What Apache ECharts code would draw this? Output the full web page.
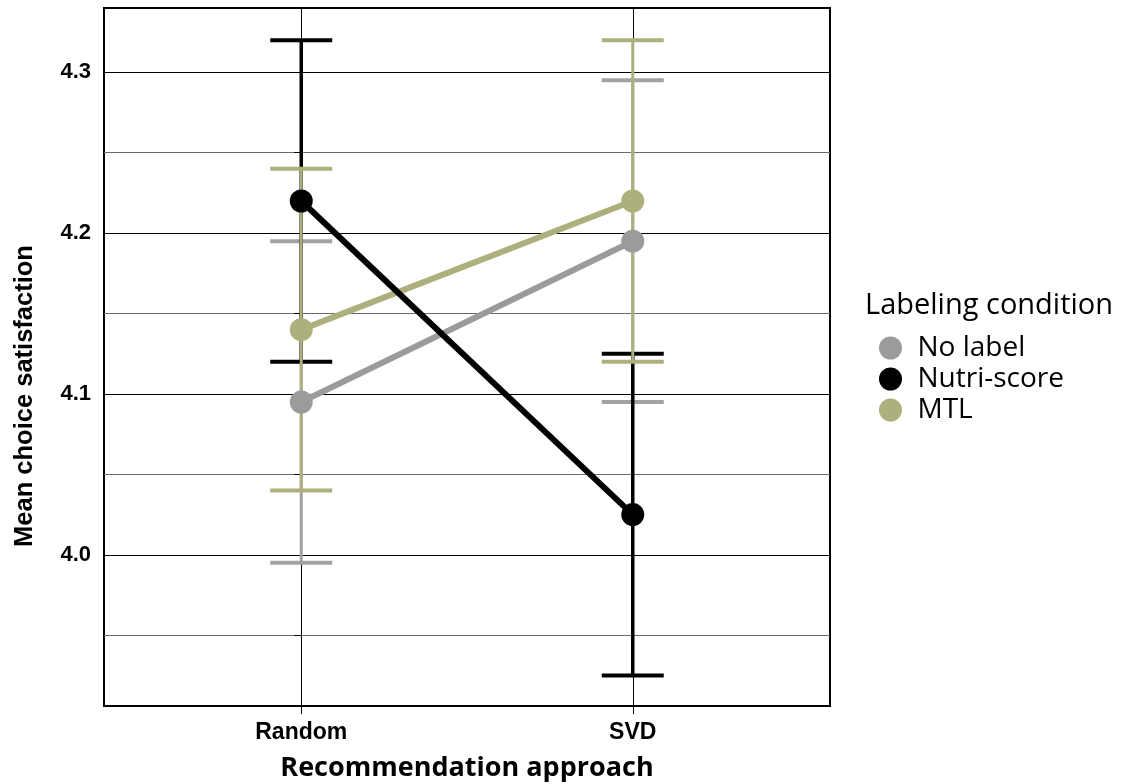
<!DOCTYPE html>
<html>
<head>
<meta charset="utf-8">
<script src="https://cdn.jsdelivr.net/npm/echarts@6/dist/echarts.min.js"></script>
<style>
html,body{margin:0;padding:0;background:#fff;}
#chart{width:1122px;height:784px;}
</style>
</head>
<body>
<div id="chart"></div>
<script>
// ---- data ----
const categories = ['Random', 'SVD'];
const seriesNames = ['No label', 'Nutri-score', 'MTL'];
const noLabelMean = [4.095, 4.195];
const noLabelLow  = [3.995, 4.095];
const noLabelHigh = [4.195, 4.295];
const nutriMean = [4.22, 4.025];
const nutriLow  = [4.12, 3.925];
const nutriHigh = [4.32, 4.125];
const mtlMean = [4.14, 4.22];
const mtlLow  = [4.04, 4.12];
const mtlHigh = [4.24, 4.32];
const yLabelTicks = [4.0, 4.1, 4.2, 4.3];
const yGridTicks = [3.95, 4.0, 4.05, 4.1, 4.15, 4.2, 4.25, 4.3];
const yMin = 3.906, yMax = 4.34;
const xMin = -0.595, xMax = 1.595;

const colors = ['#9b9b9b', '#000000', '#adb07d'];
const errColors = ['#a2a2a2', '#000000', '#adb07d'];
const means = [noLabelMean, nutriMean, mtlMean];
const lows = [noLabelLow, nutriLow, mtlLow];
const highs = [noLabelHigh, nutriHigh, mtlHigh];

const chart = echarts.init(document.getElementById('chart'), null, {renderer: 'canvas'});

function errRender(color, vw) {
  return function (params, api) {
    const x = api.value(0), lo = api.value(1), hi = api.value(2);
    const pLo = api.coord([x, lo]);
    const pHi = api.coord([x, hi]);
    const hw = 31;
    return {
      type: 'group',
      children: [
        {type: 'line', shape: {x1: pLo[0], y1: pLo[1], x2: pHi[0], y2: pHi[1]}, style: {stroke: color, lineWidth: vw}},
        {type: 'line', shape: {x1: pLo[0] - hw, y1: pLo[1], x2: pLo[0] + hw, y2: pLo[1]}, style: {stroke: color, lineWidth: 4}},
        {type: 'line', shape: {x1: pHi[0] - hw, y1: pHi[1], x2: pHi[0] + hw, y2: pHi[1]}, style: {stroke: color, lineWidth: 4}}
      ]
    };
  };
}

const series = [];
// grid lines
series.push({
  type: 'line', name: 'grid', data: [], silent: true, z: 0,
  markLine: {
    silent: true, symbol: ['none', 'none'], label: {show: false},
    animation: false, z: 0,
    data: yGridTicks.map(v => ({
      yAxis: v,
      lineStyle: {type: 'solid', width: 1, color: (Math.round(v * 100) % 10 === 0) ? '#000' : '#6a6a6a'}
    })).concat(categories.map((c, i) => ({xAxis: i, lineStyle: {type: 'solid', width: 1, color: '#000'}})))
  }
});
// error bars
const errZ = [1, 2, 3];
for (let s = 0; s < 3; s++) {
  series.push({
    type: 'custom', name: seriesNames[s] + ' err', z: errZ[s],
    renderItem: errRender(errColors[s], s === 1 ? 3.5 : 3),
    data: categories.map((c, i) => [i, lows[s][i], highs[s][i]]),
    silent: true, animation: false
  });
}
// lines
const lineZ = [4, 6, 5];
for (let s = 0; s < 3; s++) {
  series.push({
    type: 'line', name: seriesNames[s], z: lineZ[s],
    data: categories.map((c, i) => [i, means[s][i]]),
    symbol: 'circle', symbolSize: 23, showSymbol: true,
    lineStyle: {width: 6, color: colors[s]},
    itemStyle: {color: colors[s]},
    animation: false
  });
}

const option = {
  animation: false,
  backgroundColor: '#fff',
  grid: {left: 104, top: 8, width: 726, height: 698, show: true, borderColor: '#000', borderWidth: 2, backgroundColor: 'transparent'},
  xAxis: {
    type: 'value', min: xMin, max: xMax,
    axisLine: {show: false},
    splitLine: {show: false},
    axisTick: {show: true, length: 8, lineStyle: {color: '#000', width: 1}, customValues: [0, 1]},
    axisLabel: {
      customValues: [0, 1], margin: 15,
      formatter: v => categories[Math.round(v)] || '',
      fontFamily: 'Liberation Sans', fontWeight: 'bold', fontSize: 23, color: '#000'
    }
  },
  yAxis: {
    type: 'value', min: yMin, max: yMax,
    axisLine: {show: false},
    splitLine: {show: false},
    axisTick: {show: true, length: 7, lineStyle: {color: '#000', width: 1}, customValues: yGridTicks},
    axisLabel: {
      customValues: yLabelTicks, margin: 13,
      formatter: v => v.toFixed(1),
      fontFamily: 'Liberation Sans', fontWeight: 'bold', fontSize: 22, color: '#000'
    }
  },
  legend: {
    data: seriesNames,
    orient: 'vertical', left: 879, top: 334, padding: 0,
    icon: 'circle', itemWidth: 44, itemHeight: 23, itemGap: 3,
    textStyle: {fontFamily: 'Open Sans', fontSize: 28, color: '#000', lineHeight: 23, padding: [0, 0, 0, 0]},
    selectedMode: false
  },
  graphic: [
    {type: 'text', left: 865, top: 291, style: {text: 'Labeling condition', fontFamily: 'Open Sans', fontSize: 29, fill: '#000'}},
    {type: 'text', x: 467, y: 768, style: {text: 'Recommendation approach', fontFamily: 'Open Sans', fontWeight: 'bold', fontSize: 27, fill: '#000', align: 'center', verticalAlign: 'middle'}},
    {type: 'text', x: 25, y: 396, rotation: Math.PI / 2, style: {text: 'Mean choice satisfaction', fontFamily: 'Liberation Sans', fontWeight: 'bold', fontSize: 25.5, fill: '#000', align: 'center', verticalAlign: 'middle'}}
  ],
  series: series
};
chart.setOption(option);
</script>
</body>
</html>
